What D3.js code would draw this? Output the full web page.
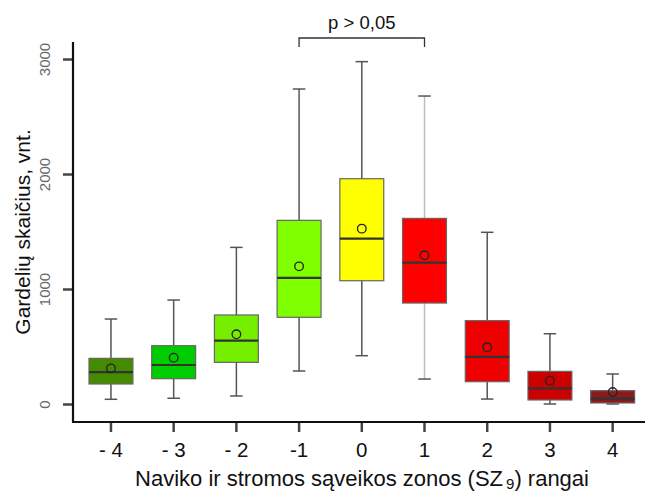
<!DOCTYPE html>
<html><head><meta charset="utf-8">
<script src="https://cdn.jsdelivr.net/npm/d3@7"></script>
<style>body{margin:0;background:#fff;}svg{display:block;font-family:"Liberation Sans",Arial,sans-serif;}</style>
</head><body><div id="chart"></div>
<script>
const categories = ["- 4", "- 3", "- 2", "-1", "0", "1", "2", "3", "4"];
const whiskerLow = [41, 50, 70, 287, 420, 217, 43, 0, 0];
const q1 = [174, 220, 362, 754, 1072, 878, 194, 35, 9];
const medians = [278, 339, 551, 1096, 1438, 1229, 409, 136, 46];
const means = [310, 403, 606, 1197, 1525, 1293, 493, 203, 104];
const q3 = [397, 507, 774, 1597, 1959, 1614, 725, 284, 116];
const whiskerHigh = [739, 904, 1362, 2739, 2977, 2678, 1493, 611, 261];
const colors = ["#458b00", "#00cd00", "#76ee00", "#7fff00", "#ffff00", "#ff0000", "#ee0000", "#cd0000", "#8b1a1a"];
const yTicks = [0, 1000, 2000, 3000];

const W = 645, H = 494;
const svg = d3.select("#chart").append("svg").attr("width", W).attr("height", H);

const x = d3.scaleBand().domain(categories).range([79.6, 644]).paddingInner(0.3).paddingOuter(0.15);
const y = d3.scaleLinear().domain([0, 3000]).range([404, 59]);

const data = categories.map((c, i) => ({c, lo: whiskerLow[i], q1: q1[i], med: medians[i], mean: means[i], q3: q3[i], hi: whiskerHigh[i], col: colors[i], i}));

const bw = x.bandwidth();
const capW = 12.5;
const g = svg.append("g");
data.forEach(d => {
  const cx = x(d.c) + bw / 2;
  const wcol = d.i === 5 ? "#bdbdbd" : "#555";
  g.append("line").attr("x1", cx).attr("x2", cx).attr("y1", y(d.hi)).attr("y2", y(d.q3)).attr("stroke", wcol).attr("stroke-width", 1.5);
  g.append("line").attr("x1", cx).attr("x2", cx).attr("y1", y(d.q1)).attr("y2", y(d.lo)).attr("stroke", wcol).attr("stroke-width", 1.5);
  g.append("line").attr("x1", cx - capW / 2).attr("x2", cx + capW / 2).attr("y1", y(d.hi)).attr("y2", y(d.hi)).attr("stroke", "#555").attr("stroke-width", 1.5);
  g.append("line").attr("x1", cx - capW / 2).attr("x2", cx + capW / 2).attr("y1", y(d.lo)).attr("y2", y(d.lo)).attr("stroke", "#555").attr("stroke-width", 1.5);
  g.append("rect").attr("x", x(d.c)).attr("width", bw).attr("y", y(d.q3)).attr("height", y(d.q1) - y(d.q3))
    .attr("fill", d.col).attr("stroke", "#666").attr("stroke-width", 1.2);
  g.append("line").attr("x1", x(d.c)).attr("x2", x(d.c) + bw).attr("y1", y(d.med)).attr("y2", y(d.med)).attr("stroke", "#333").attr("stroke-width", 2.2);
  g.append("circle").attr("cx", cx).attr("cy", y(d.mean)).attr("r", 4.3).attr("fill", "none").attr("stroke", "#222").attr("stroke-width", 1.3);
});

const yAxis = svg.append("g").attr("transform", "translate(73,0)")
  .call(d3.axisLeft(y).tickValues(yTicks).tickSize(10).tickFormat(d3.format("d")));
yAxis.select(".domain").remove();
yAxis.selectAll(".tick line").attr("stroke", "#444").attr("stroke-width", 2.5);
yAxis.selectAll(".tick text").attr("fill", "#666").attr("font-size", 15)
  .attr("transform", "rotate(-90)").attr("x", 0).attr("y", -23).attr("dy", 0).attr("text-anchor", "middle");
svg.append("line").attr("x1", 73).attr("x2", 73).attr("y1", 42).attr("y2", 422).attr("stroke", "#111").attr("stroke-width", 2.2);

const xAxis = svg.append("g").attr("transform", "translate(0,422)")
  .call(d3.axisBottom(x).tickSize(10).tickSizeOuter(0));
xAxis.select(".domain").remove();
xAxis.selectAll(".tick line").attr("stroke", "#444").attr("stroke-width", 2.5);
xAxis.selectAll(".tick text").attr("fill", "#111").attr("font-size", 20.5).attr("y", 20);
svg.append("line").attr("x1", 72).attr("x2", 645).attr("y1", 422).attr("y2", 422).attr("stroke", "#111").attr("stroke-width", 2.2);

svg.append("text").attr("transform", "translate(30,232) rotate(-90)").attr("text-anchor", "middle")
  .attr("font-size", 21).attr("fill", "#111").text("Gardelių skaičius, vnt.");
const xt = svg.append("text").attr("x", 362).attr("y", 486).attr("text-anchor", "middle").attr("font-size", 22).attr("fill", "#111");
xt.append("tspan").text("Naviko ir stromos sąveikos zonos (SZ");
xt.append("tspan").attr("font-size", 15).attr("dy", 3).attr("dx", 3).text("9");
xt.append("tspan").attr("dy", -3).text(") rangai");

const bx1 = x("-1") + bw / 2, bx2 = x("1") + bw / 2;
svg.append("path").attr("d", `M${bx1},47 V38 H${bx2} V47`).attr("fill", "none").attr("stroke", "#333").attr("stroke-width", 1.3);
svg.append("text").attr("x", (bx1 + bx2) / 2).attr("y", 29).attr("text-anchor", "middle").attr("font-size", 18.5).attr("fill", "#111").text("p > 0,05");
</script></body></html>
